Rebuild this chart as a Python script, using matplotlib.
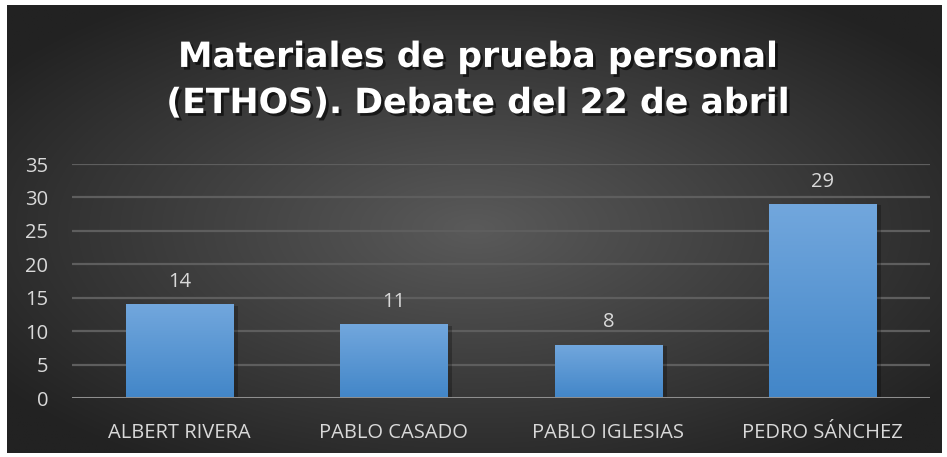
import numpy as np
import matplotlib
matplotlib.use("Agg")
import matplotlib.pyplot as plt
import matplotlib.patheffects as pe

# data
candidates = ["ALBERT RIVERA", "PABLO CASADO", "PABLO IGLESIAS", "PEDRO SÁNCHEZ"]
counts = [14, 11, 8, 29]
yticks = [0, 5, 10, 15, 20, 25, 30, 35]
title = "Materiales de prueba personal\n(ETHOS). Debate del 22 de abril"

W, H = 947, 457
fig = plt.figure(figsize=(W / 100, H / 100), dpi=100)
fig.patch.set_facecolor("white")

# dark radial background panel
bg = fig.add_axes([7 / W, 1 - 453 / H, (941 - 7) / W, (453 - 5) / H])
bg.set_axis_off()
yy, xx = np.mgrid[-1:1:300j, -1:1:600j]
r = np.sqrt(xx ** 2 + yy ** 2)
r = np.clip(r / 1.25, 0, 1)
c0 = np.array([0x5a, 0x5a, 0x5a]) / 255
c1 = np.array([0x22, 0x22, 0x22]) / 255
img = c0[None, None, :] * (1 - r[..., None]) + c1[None, None, :] * r[..., None]
bg.imshow(img, aspect="auto", extent=[0, 1, 0, 1], origin="upper")
bg.set_xlim(0, 1)
bg.set_ylim(0, 1)

# plot area
left, right, top, bottom = 72, 930, 164, 398
ax = fig.add_axes([left / W, 1 - bottom / H, (right - left) / W, (bottom - top) / H])
ax.patch.set_alpha(0)

x = np.arange(len(candidates))
bars = ax.bar(x, counts, width=0.5, color="#5b9bd5", zorder=3)

# vertical gradient on each bar
grad = np.linspace(0, 1, 256)[:, None]
top_c = np.array([0x72, 0xa7, 0xdd]) / 255
bot_c = np.array([0x42, 0x86, 0xc8]) / 255
gimg = top_c[None, None, :] * (1 - grad[..., None]) + bot_c[None, None, :] * grad[..., None]
for b in bars:
    bx, by = b.get_x(), b.get_y()
    bw, bh = b.get_width(), b.get_height()
    # soft shadow
    ax.bar(bx + bw / 2 + 0.012, bh, width=bw + 0.02, bottom=-0.2, color="black",
           alpha=0.25, zorder=2)
    im = ax.imshow(gimg, extent=[bx, bx + bw, by, by + bh], aspect="auto",
                   zorder=4, origin="upper")
    im.set_clip_path(b)

for xi, v in zip(x, counts):
    ax.text(xi, v + 3.3, str(v), ha="center", va="center", color="#d9d9d9",
            fontsize=14.5, family="Open Sans", zorder=5)

ax.set_xlim(-0.5, len(candidates) - 0.5)
ax.set_ylim(0, 35)
ax.set_yticks(yticks)
ax.set_yticklabels([str(t) for t in yticks], color="#d9d9d9", fontsize=14.5, family="Open Sans")
ax.set_xticks(x)
ax.set_xticklabels(candidates, color="#d9d9d9", fontsize=14.5, family="Open Sans")
ax.tick_params(axis="x", length=0, pad=18)
ax.tick_params(axis="y", length=0, pad=17)
for yv in yticks[1:]:
    ax.axhline(yv, color="#5e5e5e", lw=1.6, zorder=1)
ax.axhline(0, color="#8e8e8e", lw=2.2, zorder=5)
for s in ax.spines.values():
    s.set_visible(False)

fig.text(478 / W, 1 - 80 / H, title, ha="center", va="center", color="white",
         fontsize=25, fontweight="bold", family="DejaVu Sans", linespacing=1.45,
         path_effects=[pe.SimplePatchShadow(offset=(2, -2), shadow_rgbFace="black", alpha=0.6),
                       pe.Normal()])

fig.savefig("out.png", dpi=100, facecolor="white")
